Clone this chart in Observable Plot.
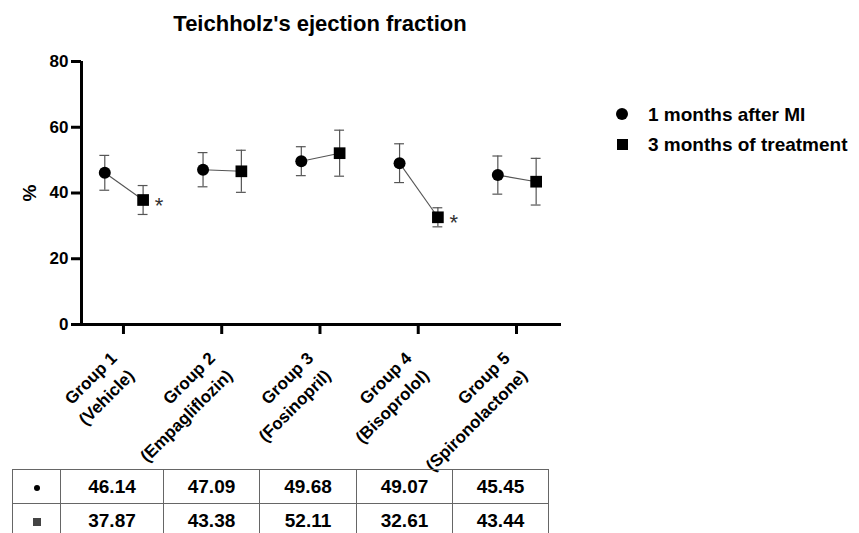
<!DOCTYPE html>
<html>
<head>
<meta charset="utf-8">
<script src="https://cdn.jsdelivr.net/npm/d3@7"></script>
<script src="https://cdn.jsdelivr.net/npm/@observablehq/plot@0.6"></script>
<style>
  html, body { margin: 0; padding: 0; background: #fff; }
  #wrap { position: relative; width: 859px; height: 533px; overflow: hidden; font-family: "Liberation Sans", Arial, Helvetica, sans-serif; color: #000; }
  #wrap svg { position: absolute; left: 0; top: 0; }
  .title { position: absolute; left: 0; top: 13px; width: 640px; text-align: center; font-size: 22px; font-weight: bold; line-height: 1; }
  .leg { position: absolute; font-size: 19px; font-weight: bold; line-height: 1; white-space: nowrap; }
  .legsym { position: absolute; background: #000; }
  table.vals { position: absolute; left: 12px; top: 469px; border-collapse: collapse; font-size: 19px; font-weight: bold; table-layout: fixed; }
  table.vals td { border: 1px solid #666; height: 33px; padding: 0; text-align: center; vertical-align: middle; line-height: 1; }
  .dotsym { display: inline-block; width: 6px; height: 6px; border-radius: 50%; background: #000; vertical-align: middle; }
  .sqsym { display: inline-block; width: 8px; height: 8px; background: #444; vertical-align: middle; }
</style>
</head>
<body>
<div id="wrap"></div>
<script>
// ---- data ----
const groupLabels = ["Group 1\n(Vehicle)", "Group 2\n(Empagliflozin)", "Group 3\n(Fosinopril)", "Group 4\n(Bisoprolol)", "Group 5\n(Spironolactone)"];
const seriesNames = ["1 months after MI", "3 months of treatment"];
const meanAfterMI = [46.14, 47.09, 49.68, 49.07, 45.45];
const sdAfterMI = [5.3, 5.2, 4.4, 5.9, 5.8];
const meanTreatment = [37.87, 46.6, 52.11, 32.61, 43.44];
const sdTreatment = [4.4, 6.4, 7.0, 2.9, 7.1];
const significance = ["*", "", "", "*", ""];
const tableAfterMI = ["46.14", "47.09", "49.68", "49.07", "45.45"];
const tableTreatment = ["37.87", "43.38", "52.11", "32.61", "43.44"];
const yTicks = [0, 20, 40, 60, 80];
const titleText = "Teichholz's ejection fraction";
const yLabel = "%";

// ---- layout helpers ----
const offA = -0.19, offB = 0.2, cap = 0.05;
const xDomain = [-0.427, 4.458];
const idx = groupLabels.map((_, i) => i);
const rowsA = idx.map(i => ({x: i + offA, mean: meanAfterMI[i], sd: sdAfterMI[i]}));
const rowsB = idx.map(i => ({x: i + offB, mean: meanTreatment[i], sd: sdTreatment[i], sig: significance[i]}));
const rows = rowsA.concat(rowsB);
const errStroke = "#555";

const chart = Plot.plot({
  width: 859,
  height: 533,
  marginLeft: 81,
  marginRight: 298,
  marginTop: 61,
  marginBottom: 209,
  style: {fontFamily: '"Liberation Sans", Arial, sans-serif', background: "transparent", color: "#000"},
  x: {type: "linear", domain: xDomain, axis: null},
  y: {domain: [0, 80], axis: null},
  marks: [
    Plot.axisY({ticks: yTicks, tickSize: 10, tickPadding: 3, fontSize: 17, fontWeight: "bold", strokeWidth: 3, label: null}),
    Plot.axisX({ticks: idx, tickSize: 10, strokeWidth: 3, text: null, label: null}),
    Plot.axisX({ticks: idx, tickSize: 0, tickFormat: i => groupLabels[i], tickRotate: -45, tickPadding: 14, dx: -2.5, dy: 24, fontSize: 17, fontWeight: "bold", lineHeight: 1.45, label: null}),
    Plot.text([yLabel], {frameAnchor: "left", dx: -52, rotate: -90, fontSize: 19, fontWeight: "bold", textAnchor: "middle", lineAnchor: "middle"}),
    Plot.ruleY([0], {strokeWidth: 3}),
    Plot.ruleX([xDomain[0]], {y1: 0, y2: 80, strokeWidth: 3}),
    Plot.ruleX(rows, {x: "x", y1: d => d.mean - d.sd, y2: d => d.mean + d.sd, stroke: errStroke, strokeWidth: 1.2}),
    Plot.ruleY(rows, {y: d => d.mean + d.sd, x1: d => d.x - cap, x2: d => d.x + cap, stroke: errStroke, strokeWidth: 1.2}),
    Plot.ruleY(rows, {y: d => d.mean - d.sd, x1: d => d.x - cap, x2: d => d.x + cap, stroke: errStroke, strokeWidth: 1.2}),
    Plot.link(idx, {x1: i => i + offA, y1: i => meanAfterMI[i], x2: i => i + offB, y2: i => meanTreatment[i], stroke: "#555", strokeWidth: 1.1}),
    Plot.dot(rowsA, {x: "x", y: "mean", r: 6, fill: "#000", symbol: "circle"}),
    Plot.dot(rowsB, {x: "x", y: "mean", r: 6.6, fill: "#000", symbol: "square"}),
    Plot.text(rowsB.filter(d => d.sig), {x: "x", y: "mean", text: "sig", dx: 16, dy: 6, fontSize: 22, fill: "#333"})
  ]
});

const wrap = document.getElementById("wrap");
wrap.appendChild(chart);

// title
const t = document.createElement("div");
t.className = "title";
t.textContent = titleText;
wrap.appendChild(t);

// legend
const legSym = [
  {left: 616, top: 108, w: 12, h: 12, round: true},
  {left: 616.5, top: 138.5, w: 11, h: 11, round: false}
];
const legTop = [105, 135];
seriesNames.forEach((name, k) => {
  const s = document.createElement("div");
  s.className = "legsym";
  Object.assign(s.style, {left: legSym[k].left + "px", top: legSym[k].top + "px", width: legSym[k].w + "px", height: legSym[k].h + "px", borderRadius: legSym[k].round ? "50%" : "0"});
  wrap.appendChild(s);
  const l = document.createElement("div");
  l.className = "leg";
  l.style.left = "648px";
  l.style.top = legTop[k] + "px";
  l.textContent = name;
  wrap.appendChild(l);
});

// table
const colW = [48, 103, 96, 97, 96, 96];
const table = document.createElement("table");
table.className = "vals";
const cg = document.createElement("colgroup");
colW.forEach(w => { const c = document.createElement("col"); c.style.width = w + "px"; cg.appendChild(c); });
table.appendChild(cg);
[[ "dotsym", tableAfterMI ], [ "sqsym", tableTreatment ]].forEach(([cls, vals]) => {
  const tr = document.createElement("tr");
  const td0 = document.createElement("td");
  const sp = document.createElement("span");
  sp.className = cls;
  td0.appendChild(sp);
  tr.appendChild(td0);
  vals.forEach(v => { const td = document.createElement("td"); td.textContent = v; tr.appendChild(td); });
  table.appendChild(tr);
});
wrap.appendChild(table);
</script>
</body>
</html>
